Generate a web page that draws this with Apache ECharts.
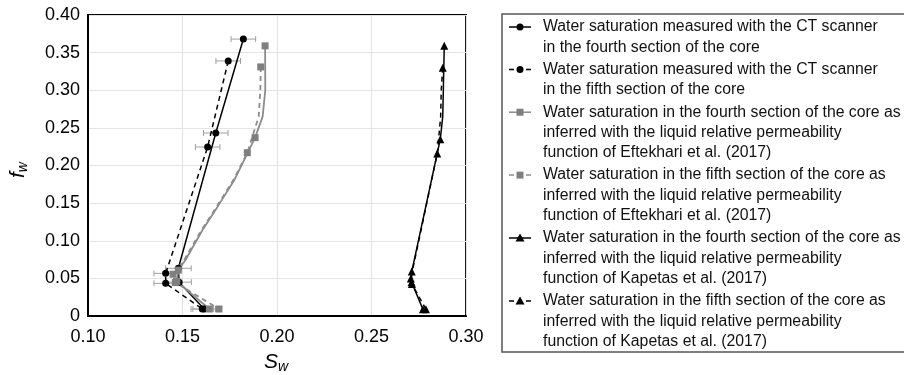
<!DOCTYPE html>
<html><head><meta charset="utf-8">
<script src="https://cdn.jsdelivr.net/npm/echarts@6/dist/echarts.min.js"></script>
<style>html,body{margin:0;padding:0;background:#fff}#c{width:904px;height:375px}</style>
</head><body><div id="c"></div>
<script>
// ---- data ----
const xTickLabels = ['0.10','0.15','0.20','0.25','0.30'];
const yTickLabels = ['0','0.05','0.10','0.15','0.20','0.25','0.30','0.35','0.40'];

const seriesNames = [
  'Water saturation measured with the CT scanner\nin the fourth section of the core',
  'Water saturation measured with the CT scanner\nin the fifth section of the core',
  'Water saturation in the fourth section of the core as\ninferred with the liquid relative permeability\nfunction of Eftekhari et al. (2017)',
  'Water saturation in the fifth section of the core as\ninferred with the liquid relative permeability\nfunction of Eftekhari et al. (2017)',
  'Water saturation in the fourth section of the core as\ninferred with the liquid relative permeability\nfunction of Kapetas et al. (2017)',
  'Water saturation in the fifth section of the core as\ninferred with the liquid relative permeability\nfunction of Kapetas et al. (2017)'
];

const ct4Sw  = [0.1822, 0.1676, 0.1478, 0.1482, 0.1615];
const ct4Fw  = [0.368, 0.2432, 0.0634, 0.0450, 0.0093];
const ct4Err = [0.0065, 0.0065, 0.0068, 0.0065, 0.0060];

const ct5Sw  = [0.1742, 0.1633, 0.1411, 0.1411, 0.1605];
const ct5Fw  = [0.3389, 0.2246, 0.0567, 0.0434, 0.0093];
const ct5Err = [0.0065, 0.0065, 0.0062, 0.0062, 0.0060];

const eft4Sw   = [0.1937, 0.1938, 0.1924, 0.1884, 0.1775, 0.1685, 0.1605, 0.1515, 0.1478, 0.1470, 0.1642];
const eft4Fw   = [0.359, 0.300, 0.265, 0.237, 0.181, 0.145, 0.114, 0.074, 0.061, 0.046, 0.0093];
const eft4Mark = [1, 0, 0, 1, 0, 0, 0, 0, 1, 1, 1];

const eft5Sw   = [0.1914, 0.1912, 0.1903, 0.1843, 0.1770, 0.1680, 0.1600, 0.1508, 0.1450, 0.1462, 0.1693];
const eft5Fw   = [0.331, 0.300, 0.265, 0.217, 0.181, 0.145, 0.114, 0.074, 0.0555, 0.0445, 0.0093];
const eft5Mark = [1, 0, 0, 1, 0, 0, 0, 0, 1, 1, 1];

const kap4Sw   = [0.2885, 0.2880, 0.2877, 0.2864, 0.2713, 0.2712, 0.2772];
const kap4Fw   = [0.359, 0.300, 0.265, 0.235, 0.059, 0.045, 0.0090];
const kap4Mark = [1, 0, 0, 1, 1, 1, 1];

const kap5Sw   = [0.2877, 0.2869, 0.2866, 0.2848, 0.2708, 0.2714, 0.2788];
const kap5Fw   = [0.330, 0.300, 0.265, 0.216, 0.050, 0.0425, 0.0090];
const kap5Mark = [1, 0, 0, 1, 1, 1, 1];

// ---- styles ----
const FONT = "'Liberation Sans', Arial, Helvetica, sans-serif";
const BLACK = '#000000';
const GREY_MK = '#7f7f7f';
const GREY_LN = '#8c8c8c';
const ERR = '#a0a0a0';

function pts(xs, ys, marks) {
  return xs.map((x, i) => (marks && !marks[i]) ? { value: [x, ys[i]], symbol: 'none' } : [x, ys[i]]);
}
function errData(xs, ys, es) { return xs.map((x, i) => [x, ys[i], es[i]]); }

function errSeries(data) {
  return {
    type: 'custom', silent: true, z: 1,
    encode: { x: 0, y: 1 },
    data: data,
    renderItem: function (params, api) {
      const x = api.value(0), y = api.value(1), e = api.value(2);
      const l = api.coord([x - e, y]), r = api.coord([x + e, y]);
      const h = 3, st = { stroke: ERR, lineWidth: 1 };
      return { type: 'group', children: [
        { type: 'line', shape: { x1: l[0], y1: l[1], x2: r[0], y2: r[1] }, style: st },
        { type: 'line', shape: { x1: l[0], y1: l[1] - h, x2: l[0], y2: l[1] + h }, style: st },
        { type: 'line', shape: { x1: r[0], y1: r[1] - h, x2: r[0], y2: r[1] + h }, style: st }
      ]};
    }
  };
}

function lineSeries(name, data, color, mkColor, dashed, symbol, size, width) {
  return {
    type: 'line', name: name, data: data, z: 3,
    symbol: symbol, symbolSize: size, showSymbol: true,
    itemStyle: { color: mkColor },
    lineStyle: { color: color, width: width, type: dashed ? [5, 4] : 'solid' },
    emphasis: { disabled: true }
  };
}

// ---- legend (graphic) ----
const legendStyles = [
  { color: BLACK, mk: BLACK, dashed: false, sym: 'circle' },
  { color: BLACK, mk: BLACK, dashed: true, sym: 'circle' },
  { color: GREY_LN, mk: GREY_MK, dashed: false, sym: 'rect' },
  { color: GREY_LN, mk: GREY_MK, dashed: true, sym: 'rect' },
  { color: BLACK, mk: BLACK, dashed: false, sym: 'triangle' },
  { color: BLACK, mk: BLACK, dashed: true, sym: 'triangle' }
];
const graphics = [];
graphics.push({ type: 'rect', shape: { x: 502, y: 14, width: 410, height: 338 },
  style: { fill: '#fff', stroke: '#555', lineWidth: 1.5 }, z: 10 });
const LH = 20.3, GAP = 2.0;
let cy = 27;
seriesNames.forEach((nm, i) => {
  const s = legendStyles[i];
  const nLines = nm.split('\n').length;
  graphics.push({ type: 'line', z: 11, shape: { x1: 509, y1: cy, x2: 531, y2: cy },
    style: { stroke: s.color, lineWidth: 1.5, lineDash: s.dashed ? [5, 12] : null } });
  if (s.sym === 'circle') graphics.push({ type: 'circle', z: 12, shape: { cx: 520, cy: cy, r: 3.5 }, style: { fill: s.mk } });
  else if (s.sym === 'rect') graphics.push({ type: 'rect', z: 12, shape: { x: 516.5, y: cy - 3.5, width: 7, height: 7 }, style: { fill: s.mk } });
  else graphics.push({ type: 'polygon', z: 12, shape: { points: [[520, cy - 4.5], [524.5, cy + 3.5], [515.5, cy + 3.5]] }, style: { fill: s.mk } });
  graphics.push({ type: 'text', z: 12, x: 543, y: cy - LH / 2,
    style: { text: nm, fontSize: 15.8, fontFamily: FONT, fill: '#111', lineHeight: LH, align: 'left', verticalAlign: 'top' } });
  cy += nLines * LH + GAP;
});
// axis titles
graphics.push({ type: 'text', z: 12, x: 18, y: 170, rotation: Math.PI / 2,
  style: { text: '{a|f}{b|w}', align: 'center', verticalAlign: 'middle',
    rich: { a: { fontSize: 21, fontStyle: 'italic', fontFamily: FONT, fill: '#000', lineHeight: 24 },
            b: { fontSize: 14, fontStyle: 'italic', fontFamily: FONT, fill: '#000', lineHeight: 14, verticalAlign: 'bottom' } } } });
graphics.push({ type: 'text', z: 12, x: 276, y: 362,
  style: { text: '{a|S}{b|w}', align: 'center', verticalAlign: 'middle',
    rich: { a: { fontSize: 21, fontStyle: 'italic', fontFamily: FONT, fill: '#000', lineHeight: 24 },
            b: { fontSize: 14, fontStyle: 'italic', fontFamily: FONT, fill: '#000', lineHeight: 14, verticalAlign: 'bottom' } } } });

const chart = echarts.init(document.getElementById('c'), null, { renderer: 'canvas' });
chart.setOption({
  animation: false,
  backgroundColor: '#fff',
  grid: { left: 88, right: 438, top: 15, bottom: 59, show: true, borderColor: '#000', borderWidth: 2, backgroundColor: 'transparent' },
  xAxis: {
    type: 'value', min: 0.10, max: 0.30, interval: 0.05,
    axisLine: { show: true, onZero: false, lineStyle: { color: '#000', width: 2 } },
    axisTick: { show: false },
    splitLine: { show: true, lineStyle: { color: '#e4e4e4', width: 1.2 } },
    axisLabel: { fontSize: 18, fontFamily: FONT, color: '#000', margin: 12,
      formatter: v => xTickLabels[Math.round((v - 0.10) / 0.05)] }
  },
  yAxis: {
    type: 'value', min: 0, max: 0.40, interval: 0.05,
    axisLine: { show: true, onZero: false, lineStyle: { color: '#000', width: 2 } },
    axisTick: { show: false },
    splitLine: { show: true, lineStyle: { color: '#e4e4e4', width: 1.2 } },
    axisLabel: { fontSize: 18, fontFamily: FONT, color: '#000', margin: 8,
      formatter: v => yTickLabels[Math.round(v / 0.05)] }
  },
  graphic: graphics,
  series: [
    errSeries(errData(ct4Sw, ct4Fw, ct4Err)),
    errSeries(errData(ct5Sw, ct5Fw, ct5Err)),
    lineSeries(seriesNames[0], pts(ct4Sw, ct4Fw), BLACK, BLACK, false, 'circle', 7, 1.5),
    lineSeries(seriesNames[1], pts(ct5Sw, ct5Fw), BLACK, BLACK, true, 'circle', 7, 1.5),
    lineSeries(seriesNames[2], pts(eft4Sw, eft4Fw, eft4Mark), GREY_LN, GREY_MK, false, 'rect', 7, 1.8),
    lineSeries(seriesNames[3], pts(eft5Sw, eft5Fw, eft5Mark), GREY_LN, GREY_MK, true, 'rect', 7, 1.8),
    lineSeries(seriesNames[4], pts(kap4Sw, kap4Fw, kap4Mark), BLACK, BLACK, false, 'triangle', 8, 1.5),
    lineSeries(seriesNames[5], pts(kap5Sw, kap5Fw, kap5Mark), BLACK, BLACK, true, 'triangle', 8, 1.5)
  ]
});
</script></body></html>
